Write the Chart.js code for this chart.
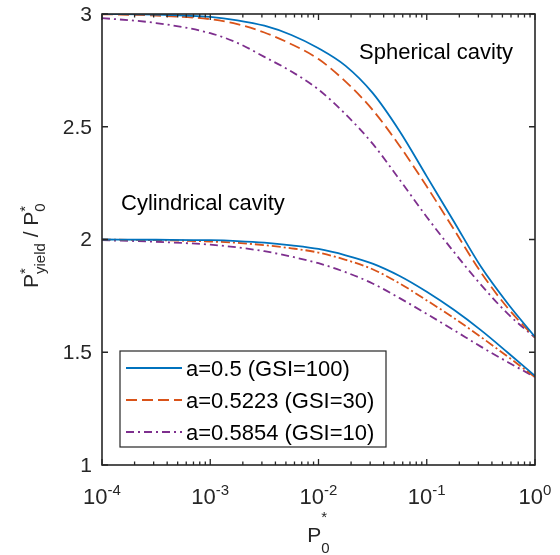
<!DOCTYPE html>
<html>
<head>
<meta charset="utf-8">
<script src="https://cdn.jsdelivr.net/npm/chart.js@4/dist/chart.umd.min.js"></script>
<style>
  body { margin: 0; background: #fff; }
  canvas { display: block; }
</style>
</head>
<body>
<canvas id="chart" width="560" height="555"></canvas>
<script>
// P0* sample points (log spaced)
const p0 = [1e-4, 3.16e-4, 1e-3, 1.78e-3, 3.16e-3, 5.62e-3, 1e-2, 1.78e-2, 3.16e-2,
            5.62e-2, 1e-1, 1.78e-1, 3.16e-1, 5.62e-1, 1];

// spherical cavity
const sph100 = [3.000, 2.997, 2.987, 2.972, 2.948, 2.907, 2.848, 2.770, 2.650,
                2.480, 2.280, 2.080, 1.880, 1.715, 1.568];
const sph30  = [2.999, 2.993, 2.977, 2.955, 2.918, 2.866, 2.800, 2.700, 2.575,
                2.415, 2.235, 2.045, 1.855, 1.695, 1.565];
const sph10  = [2.982, 2.960, 2.915, 2.872, 2.810, 2.745, 2.665, 2.555, 2.425,
                2.265, 2.100, 1.945, 1.800, 1.670, 1.565];

// cylindrical cavity
const cyl100 = [2.000, 1.999, 1.997, 1.993, 1.986, 1.974, 1.958, 1.930, 1.893,
                1.838, 1.768, 1.688, 1.598, 1.498, 1.395];
const cyl30  = [2.000, 1.997, 1.991, 1.985, 1.975, 1.961, 1.942, 1.910, 1.868,
                1.805, 1.730, 1.652, 1.568, 1.480, 1.390];
const cyl10  = [1.997, 1.990, 1.977, 1.965, 1.948, 1.924, 1.895, 1.855, 1.805,
                1.740, 1.670, 1.598, 1.525, 1.456, 1.390];

const legendLabels = ["a=0.5 (GSI=100)", "a=0.5223 (GSI=30)", "a=0.5854 (GSI=10)"];

const yTicks = [1, 1.5, 2, 2.5, 3];
const yTickLabels = ["1", "1.5", "2", "2.5", "3"];
const xTicks = [1e-4, 1e-3, 1e-2, 1e-1, 1];
const xTickExps = ["-4", "-3", "-2", "-1", "0"];

const BLUE = "#0072BD", ORANGE = "#D95319", PURPLE = "#7E2F8E";
const AXIS = "#262626";
const FONT = '"Liberation Sans", Arial, sans-serif';
const f = sz => sz + "px " + FONT;

const DASH = [11, 5];
const DASHDOT = [8, 4, 2, 4];

function pts(ys) {
  return p0.map((x, i) => ({ x, y: ys[i] }));
}

function ds(data, color, dash) {
  return {
    data: pts(data),
    borderColor: color,
    borderWidth: 1.8,
    borderDash: dash,
    pointRadius: 0,
    fill: false,
    cubicInterpolationMode: "monotone"
  };
}

const overlay = {
  id: "overlay",
  afterDraw(chart) {
    const ctx = chart.ctx;
    const a = chart.chartArea;
    const xs = chart.scales.x, ys = chart.scales.y;
    ctx.save();

    // axes box
    ctx.strokeStyle = AXIS;
    ctx.lineWidth = 1.6;
    ctx.setLineDash([]);
    ctx.strokeRect(a.left, a.top, a.right - a.left, a.bottom - a.top);

    // y ticks
    ctx.lineWidth = 1.3;
    ctx.fillStyle = AXIS;
    ctx.font = f(21);
    ctx.textAlign = "right";
    ctx.textBaseline = "middle";
    yTicks.forEach((v, i) => {
      const py = ys.getPixelForValue(v);
      ctx.beginPath();
      ctx.moveTo(a.left, py); ctx.lineTo(a.left + 6, py);
      ctx.moveTo(a.right, py); ctx.lineTo(a.right - 6, py);
      ctx.stroke();
      ctx.fillText(yTickLabels[i], a.left - 10, py + 1);
    });

    // x ticks (major + minor)
    xTicks.forEach((v, i) => {
      const px = xs.getPixelForValue(v);
      ctx.beginPath();
      ctx.moveTo(px, a.bottom); ctx.lineTo(px, a.bottom - 6);
      ctx.moveTo(px, a.top); ctx.lineTo(px, a.top + 6);
      ctx.stroke();
      if (i < xTicks.length - 1) {
        for (let k = 2; k <= 9; k++) {
          const mx = xs.getPixelForValue(v * k);
          ctx.beginPath();
          ctx.moveTo(mx, a.bottom); ctx.lineTo(mx, a.bottom - 3.5);
          ctx.moveTo(mx, a.top); ctx.lineTo(mx, a.top + 3.5);
          ctx.stroke();
        }
      }
      // label 10^n
      ctx.textAlign = "left";
      ctx.textBaseline = "alphabetic";
      ctx.font = f(22);
      const wBase = ctx.measureText("10").width;
      ctx.font = f(15);
      const wExp = ctx.measureText(xTickExps[i]).width;
      const x0 = px - (wBase + wExp) / 2;
      ctx.font = f(22);
      ctx.fillText("10", x0, 504);
      ctx.font = f(15);
      ctx.fillText(xTickExps[i], x0 + wBase, 495);
    });

    // x axis title P0*
    ctx.fillStyle = AXIS;
    ctx.font = f(21);
    const wP = ctx.measureText("P").width;
    ctx.font = f(15);
    const wS = Math.max(ctx.measureText("*").width, ctx.measureText("0").width);
    const cx = (a.left + a.right) / 2;
    const xl = cx - (wP + wS) / 2;
    ctx.font = f(21);
    ctx.fillText("P", xl, 542);
    ctx.font = f(15);
    ctx.fillText("*", xl + wP, 522);
    ctx.fillText("0", xl + wP, 553);

    // y axis title P*yield / P0*
    ctx.save();
    ctx.translate(38, 288);
    ctx.rotate(-Math.PI / 2);
    let x = 0;
    ctx.font = f(21);
    ctx.fillText("P", x, 0);
    x += ctx.measureText("P").width;
    ctx.font = f(15);
    ctx.fillText("*", x, -8.5);
    ctx.fillText("yield", x, 7);
    x += ctx.measureText("yield").width;
    ctx.font = f(21);
    ctx.fillText(" / P", x, 0);
    x += ctx.measureText(" / P").width;
    ctx.font = f(15);
    ctx.fillText("*", x, -8.5);
    ctx.fillText("0", x, 6.5);
    ctx.restore();

    // annotations
    ctx.font = f(22);
    ctx.textAlign = "left";
    ctx.fillStyle = "#000";
    ctx.fillText("Spherical cavity", 359, 59);
    ctx.fillText("Cylindrical cavity", 121, 210);

    // legend
    const lx = 120, ly = 351, lw = 266, lh = 96;
    ctx.fillStyle = "#fff";
    ctx.fillRect(lx, ly, lw, lh);
    ctx.strokeStyle = AXIS;
    ctx.lineWidth = 1.2;
    ctx.strokeRect(lx, ly, lw, lh);
    const styles = [[BLUE, []], [ORANGE, DASH], [PURPLE, DASHDOT]];
    ctx.font = f(22);
    ctx.textBaseline = "middle";
    legendLabels.forEach((lab, i) => {
      const yy = 368 + i * 32;
      ctx.strokeStyle = styles[i][0];
      ctx.lineWidth = 1.8;
      ctx.setLineDash(styles[i][1]);
      ctx.beginPath();
      ctx.moveTo(126, yy); ctx.lineTo(182, yy);
      ctx.stroke();
      ctx.setLineDash([]);
      ctx.fillStyle = "#000";
      ctx.fillText(lab, 186, yy + 2);
    });

    ctx.restore();
  }
};

new Chart(document.getElementById("chart"), {
  type: "line",
  data: {
    datasets: [
      ds(sph100, BLUE, []),
      ds(sph30, ORANGE, DASH),
      ds(sph10, PURPLE, DASHDOT),
      ds(cyl100, BLUE, []),
      ds(cyl30, ORANGE, [9, 3, 2, 3]),
      ds(cyl10, PURPLE, DASHDOT)
    ]
  },
  options: {
    responsive: false,
    animation: false,
    layout: { padding: { left: 102, right: 25, top: 14, bottom: 90 } },
    scales: {
      x: { type: "logarithmic", min: 1e-4, max: 1, display: false },
      y: { type: "linear", min: 1, max: 3, display: false }
    },
    plugins: {
      legend: { display: false },
      tooltip: { enabled: false }
    }
  },
  plugins: [overlay]
});
</script>
</body>
</html>
